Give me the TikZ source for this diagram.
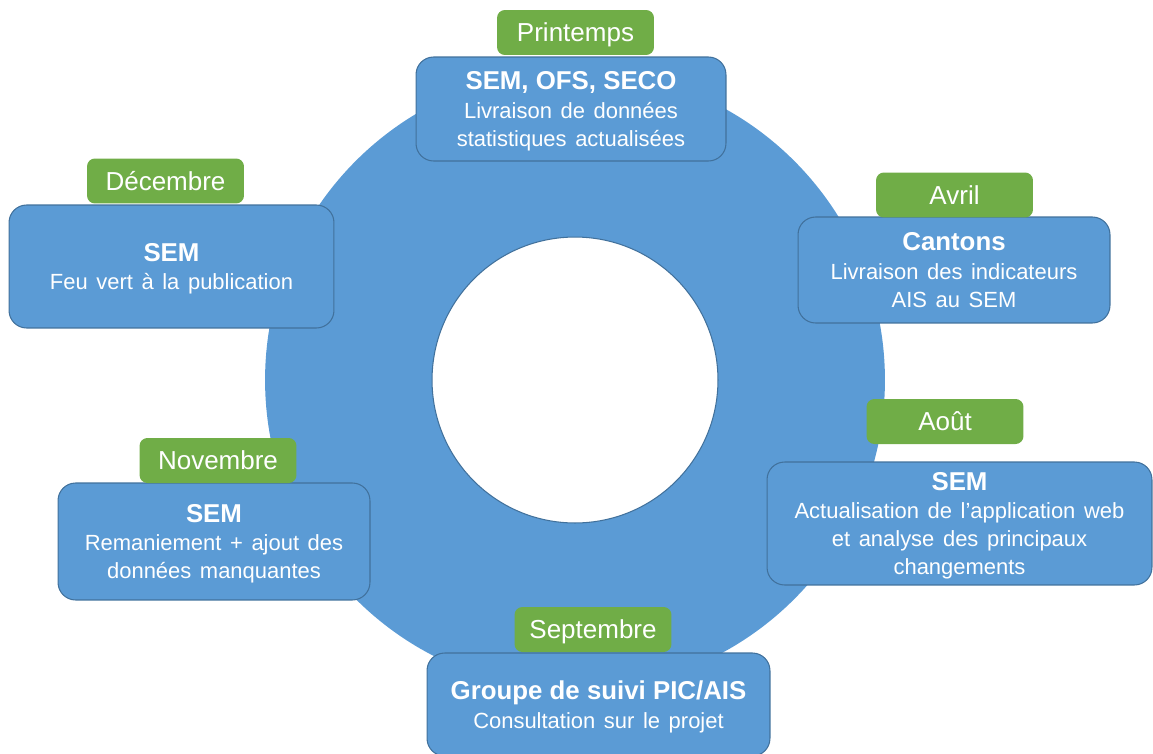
\documentclass[tikz,border=0pt]{standalone}
\usepackage{fontspec}
\setmainfont{Liberation Sans}
\definecolor{bleu}{HTML}{5B9BD5}
\definecolor{bleufonce}{HTML}{41719C}
\definecolor{vert}{HTML}{70AD47}
\newcommand{\titre}[1]{{\bfseries\fontsize{14.7}{17}\selectfont\spaceskip=0pt\relax #1}}
\protected\def\espace{\spaceskip=4.9pt plus 1pt\relax}

\begin{document}
\begin{tikzpicture}[x=0.02cm, y=-0.02cm, etape/.style={rectangle, rounded corners=10pt, fill=bleu, draw=bleufonce, line width=.6pt, text=white, align=center, inner sep=0pt, text depth=0pt, font=\fontsize{12.5}{15.9}\selectfont\espace}, mois/.style={rectangle, rounded corners=4.5pt, fill=vert, text=white, inner sep=0pt, text depth=0pt, minimum width=3.14cm, minimum height=.9cm, font=\fontsize{14.8}{17}\selectfont}]

\useasboundingbox (0,0) rectangle (1153,754);

\fill[bleu] (575,380) circle[radius=6.2cm];
\filldraw[fill=white, draw=bleufonce, line width=.6pt] (575,380) circle[radius=2.86cm];

\node[etape, minimum width=6.2cm, minimum height=2.08cm] (printemps) at (571,109) {\titre{SEM, OFS, SECO}\\[.5pt]Livraison de données\\statistiques actualisées};
\node[etape, minimum width=6.5cm, minimum height=2.46cm] (decembre) at (171.5,266.5) {\titre{SEM}\\[.5pt]Feu vert à la publication};
\node[etape, minimum width=6.24cm, minimum height=2.12cm] (avril) at (954,270) {\titre{Cantons}\\[.5pt]Livraison des indicateurs\\AIS au SEM};
\node[etape, minimum width=7.7cm, minimum height=2.46cm] (aout) at (959.5,523.5) {\titre{SEM}\\[.5pt]Actualisation de l’application web\\et analyse des principaux\\changements};
\node[etape, minimum width=6.24cm, minimum height=2.34cm] (novembre) at (214,541.5) {\titre{SEM}\\[.5pt]Remaniement + ajout des\\données manquantes};
\node[etape, minimum width=6.86cm, minimum height=2.06cm] (septembre) at (598.5,704.5) {\titre{Groupe de suivi PIC/AIS}\\[.5pt]Consultation sur le projet};

\node[mois] (m-printemps) at (575.5,32.5) {Printemps};
\node[mois] (m-decembre) at (165.5,181) {Décembre};
\node[mois] (m-avril) at (954.5,195) {Avril};
\node[mois] (m-aout) at (945,421.5) {Août};
\node[mois] (m-novembre) at (218,460.5) {Novembre};
\node[mois] (m-septembre) at (593,629.5) {Septembre};
\end{tikzpicture}
\end{document}
